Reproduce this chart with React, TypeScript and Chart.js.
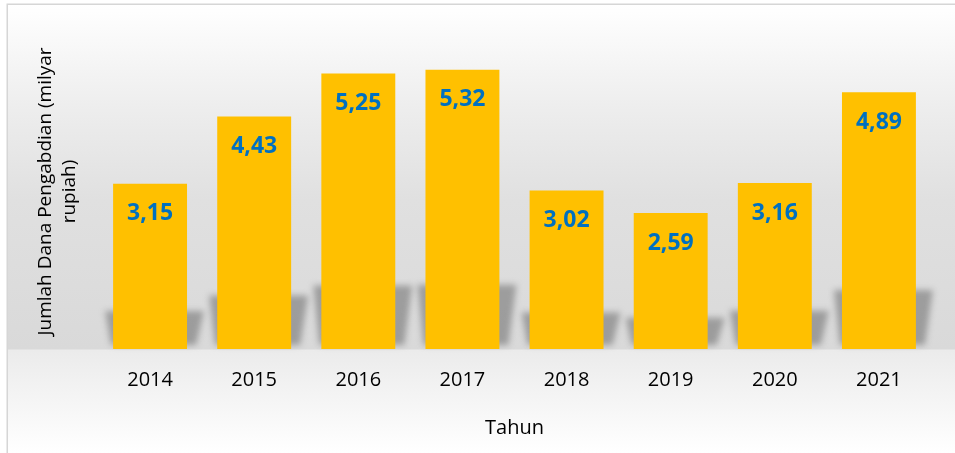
import React, { useEffect, useRef } from 'react';
import { Chart, registerables } from 'chart.js';

Chart.register(...registerables);

const years = ['2014', '2015', '2016', '2017', '2018', '2019', '2020', '2021'];
const dana = [3.15, 4.43, 5.25, 5.32, 3.02, 2.59, 3.16, 4.89];
const yTitle = ['Jumlah Dana Pengabdian (milyar', 'rupiah)'];
const xTitle = 'Tahun';

const FONT = '"Open Sans", "Noto Sans", sans-serif';

const bgPlugin = {
  id: 'bgPlugin',
  beforeDraw(chart: any) {
    const { ctx, width, height, chartArea } = chart;
    const b = chartArea.bottom;
    ctx.save();
    ctx.fillStyle = '#ffffff';
    ctx.fillRect(0, 0, width, height);
    const y0 = 5;
    const span = height - y0;
    const f = (y: number) => Math.min(1, Math.max(0, (y - y0) / span));
    const g = ctx.createLinearGradient(0, y0, 0, height);
    g.addColorStop(0, '#ffffff');
    g.addColorStop(f(110), '#ededed');
    g.addColorStop(f(200), '#e0e0e0');
    g.addColorStop(f(b), '#d9d9d9');
    g.addColorStop(f(b + 1), '#ebebeb');
    g.addColorStop(1, '#ffffff');
    ctx.fillStyle = g;
    ctx.fillRect(7, 4, width, height);
    ctx.strokeStyle = '#d6d6d6';
    ctx.lineWidth = 1.5;
    ctx.strokeRect(7.25, 4.25, width + 20, height + 20);
    ctx.restore();
  },
  beforeDatasetsDraw(chart: any) {
    const { ctx } = chart;
    const meta = chart.getDatasetMeta(0);
    ctx.save();
    ctx.filter = 'blur(3px)';
    ctx.fillStyle = 'rgba(105,105,105,0.55)';
    ctx.beginPath();
    meta.data.forEach((el: any) => {
      const { x, y, base, width } = el.getProps(['x', 'y', 'base', 'width'], true);
      const h = base - y;
      const sb = base - 4;
      const st = base - 0.23 * h;
      const l = x - width / 2;
      const r = x + width / 2;
      ctx.moveTo(l - 2, sb);
      ctx.lineTo(r + 9, sb);
      ctx.lineTo(r + 17, st);
      ctx.lineTo(l - 8, st);
      ctx.closePath();
    });
    ctx.fill();
    ctx.restore();
  },
  afterDatasetsDraw(chart: any) {
    const { ctx } = chart;
    const meta = chart.getDatasetMeta(0);
    ctx.save();
    ctx.font = `bold 23px ${FONT}`;
    ctx.fillStyle = '#0070C0';
    ctx.textAlign = 'center';
    ctx.textBaseline = 'middle';
    meta.data.forEach((el: any, i: number) => {
      const { x, y } = el.getProps(['x', 'y'], true);
      ctx.fillText(dana[i].toFixed(2).replace('.', ','), x, y + 30);
    });
    ctx.restore();
  },
};

export default function App() {
  const ref = useRef<HTMLCanvasElement | null>(null);
  useEffect(() => {
    if (!ref.current) return;
    const chart = new Chart(ref.current, {
      type: 'bar',
      data: {
        labels: years,
        datasets: [
          {
            data: dana,
            backgroundColor: '#FFC000',
            borderWidth: 0,
            barPercentage: 0.71,
            categoryPercentage: 1,
          },
        ],
      },
      options: {
        responsive: false,
        animation: false,
        events: [],
        layout: { padding: { top: 34, right: 24, bottom: 8, left: 30 } },
        plugins: {
          legend: { display: false },
          tooltip: { enabled: false },
        },
        scales: {
          x: {
            grid: { display: false, drawTicks: false },
            border: { display: false },
            ticks: { color: '#000', padding: 19, font: { family: FONT, size: 20, lineHeight: 1.2 } },
            title: {
              display: true,
              text: xTitle,
              color: '#000',
              padding: { top: 24, bottom: 5 },
              font: { family: FONT, size: 20, lineHeight: 1.2 },
            },
            afterFit: (scale: any) => {
              scale.height = 96;
            },
          },
          y: {
            min: 0,
            max: 6,
            grid: { display: false, drawTicks: false },
            border: { display: false },
            ticks: { display: false },
            title: {
              display: true,
              text: yTitle,
              color: '#000',
              padding: { top: 4, bottom: 16 },
              font: { family: FONT, size: 19, lineHeight: 24 / 19 },
            },
            afterFit: (scale: any) => {
              scale.width = 68;
            },
          },
        },
      },
      plugins: [bgPlugin],
    });
    return () => chart.destroy();
  }, []);
  return (
    <div style={{ position: 'absolute', left: 0, top: 0, width: 955, height: 453, overflow: 'hidden' }}>
      <canvas ref={ref} width={955} height={453} style={{ display: 'block' }} />
    </div>
  );
}
